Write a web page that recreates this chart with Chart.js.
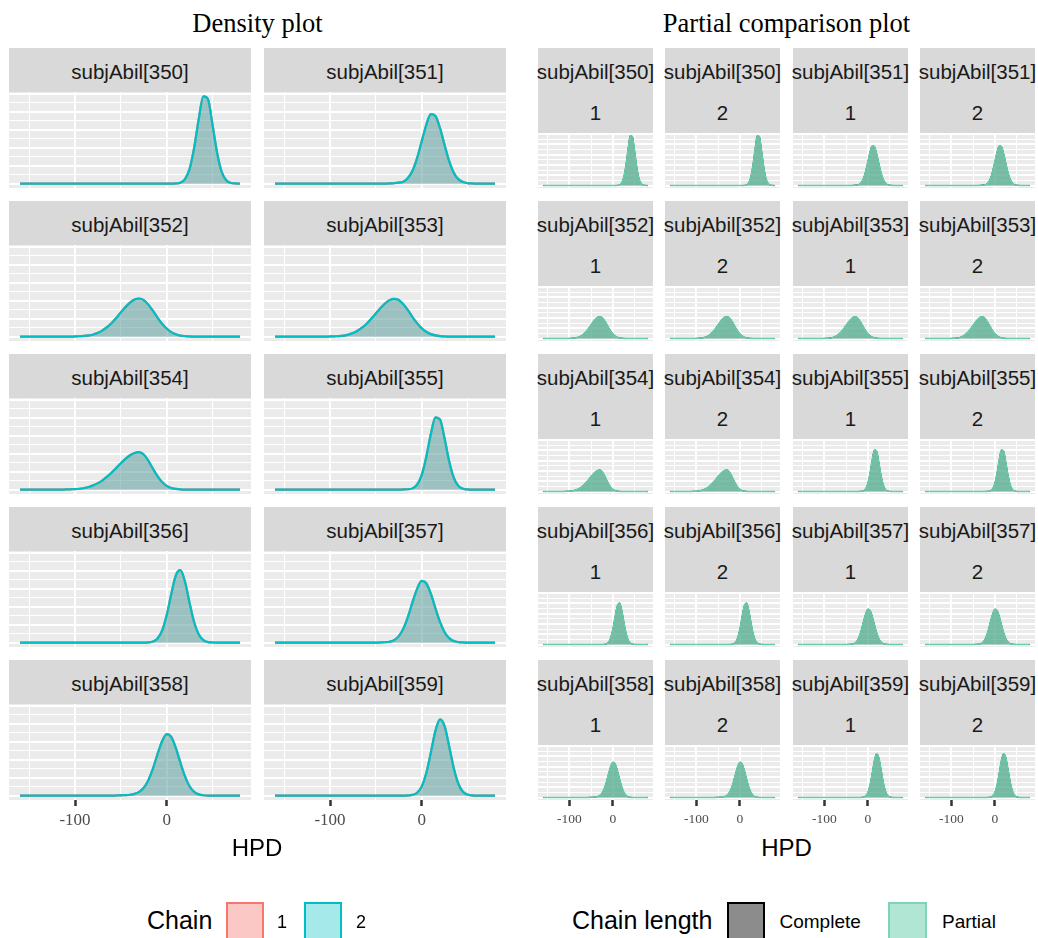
<!DOCTYPE html>
<html>
<head>
<meta charset="utf-8">
<script src="https://cdn.jsdelivr.net/npm/chart.js@4.4.0/dist/chart.umd.min.js"></script>
<style>
  html, body { margin: 0; padding: 0; background: #fff; }
  #page { position: relative; width: 1038px; height: 938px; overflow: hidden; }
  .txt { position: absolute; white-space: nowrap; line-height: 1; }
  .strip { position: absolute; background: #D9D9D9; }
  .key { position: absolute; box-sizing: border-box; border: 2px solid; }
  canvas { position: absolute; }
</style>
</head>
<body>
<div id="page"></div>
<script>
// HPD grid the densities are sampled on
const hpdGrid = [-160,-155,-150,-145,-140,-135,-130,-125,-120,-115,-110,-105,-100,-95,-90,-85,-80,-75,-70,-65,
  -60,-55,-50,-45,-40,-35,-30,-25,-20,-15,-10,-5,0,5,10,15,20,25,30,35,40,45,50,55,60,65,70,75,80];

// density (x1000) for each parameter, one value per grid point
const dens350 = [0,0,0,0,0,0,0,0,0,0, 0,0,0,0,0,0,0,0,0,0, 0,0,0,0,0,0,0,0,0,0,
  0,0,0,0,0.1,0.5,2.5,8.2,20.0,36.0, 48.5,47.0,32.8,17.2,6.6,1.9,0.4,0.1,0];
const dens351 = [0,0,0,0,0,0,0,0,0,0, 0,0,0,0,0,0,0,0,0,0, 0,0,0,0,0,0.1,0.3,0.6,1.1,3.1,
  7.2,14.2,23.4,32.6,38.6,37.6,30.9,21.5,12.5,6.1, 2.5,0.9,0.3,0.1,0,0,0,0,0];
const dens352 = [0,0,0,0,0,0,0,0,0,0, 0,0,0.1,0.2,0.4,0.7,1.2,2.1,3.5,5.3, 7.6,10.4,13.5,16.4,18.9,20.6,21.2,20.3,17.8,14.4,
  10.6,7.2,4.5,2.5,1.3,0.6,0.3,0.1,0,0, 0,0,0,0,0,0,0,0,0];
const dens353 = [0,0,0,0,0,0,0,0,0,0, 0,0,0.1,0.2,0.3,0.6,1.1,2.0,3.3,5.0, 7.2,9.9,12.9,15.8,18.4,20.3,21.0,20.4,18.0,14.7,
  10.9,7.5,4.7,2.7,1.4,0.7,0.3,0.1,0,0, 0,0,0,0,0,0,0,0,0];
const dens354 = [0,0,0,0,0,0,0,0,0,0, 0.1,0.2,0.3,0.5,0.9,1.5,2.4,3.6,5.2,7.2, 9.5,12.1,14.7,17.1,19.1,20.4,20.8,19.5,16.1,11.7,
  7.5,4.2,2.1,0.9,0.4,0.1,0,0,0,0, 0,0,0,0,0,0,0,0,0];
const dens355 = [0,0,0,0,0,0,0,0,0,0, 0,0,0,0,0,0,0,0,0,0, 0,0,0,0,0,0,0,0,0.1,0.2,
  0.7,2.8,8.1,18.2,30.9,40.2,39.0,28.4,15.8,6.7, 2.1,0.5,0.1,0,0,0,0,0,0];
const dens356 = [0,0,0,0,0,0,0,0,0,0, 0,0,0,0,0,0,0,0,0,0, 0,0,0,0,0,0,0,0,0.1,0.6,
  2.3,6.7,15.2,27.0,37.4,40.3,33.8,22.1,11.3,4.5, 1.4,0.3,0.1,0,0,0,0,0,0];
const dens357 = [0,0,0,0,0,0,0,0,0,0, 0,0,0,0,0,0,0,0,0,0, 0,0,0,0.1,0.2,0.5,1.4,3.6,7.8,14.3,
  22.5,29.9,34.3,33.0,27.2,19.1,11.5,5.8,2.5,0.9, 0.3,0.1,0,0,0,0,0,0,0];
const dens358 = [0,0,0,0,0,0,0,0,0,0, 0,0,0,0,0,0,0,0,0,0, 0,0.1,0.2,0.3,0.5,1.0,2.1,4.4,8.6,15.0,
  23.0,30.2,34.2,32.6,26.5,18.3,10.7,5.2,2.1,0.7, 0.2,0,0,0,0,0,0,0,0];
const dens359 = [0,0,0,0,0,0,0,0,0,0, 0,0,0,0,0,0,0,0,0,0, 0,0,0,0,0,0,0,0,0,0.1,
  0.4,1.6,5.0,12.4,23.9,36.0,42.4,38.7,27.5,15.3, 6.6,2.2,0.6,0.1,0,0,0,0,0];

const subjects = ['subjAbil[350]','subjAbil[351]','subjAbil[352]','subjAbil[353]','subjAbil[354]',
  'subjAbil[355]','subjAbil[356]','subjAbil[357]','subjAbil[358]','subjAbil[359]'];
const densities = [dens350, dens351, dens352, dens353, dens354, dens355, dens356, dens357, dens358, dens359];
const chains = ['1', '2'];

const hpdBreaks = [-150, -100, -50, 0, 50];
const hpdLabels = [-100, 0];
const densityBreaks = [0, 5, 10, 15, 20, 25, 30, 35, 40, 45, 50];

const SANS = '"Liberation Sans", Arial, sans-serif';
const SERIF = '"Liberation Serif", "Times New Roman", serif';

const page = document.getElementById('page');

// ggplot-style 5% expansion of both axes
const hpdSpan = hpdGrid[hpdGrid.length - 1] - hpdGrid[0];
const xMin = hpdGrid[0] - 0.05 * hpdSpan;
const xMax = hpdGrid[hpdGrid.length - 1] + 0.05 * hpdSpan;
const densityTop = Math.max(...densities.map(d => Math.max(...d)));
const yMin = -0.05 * densityTop;
const yMax = 1.05 * densityTop;

const panelBackground = {
  id: 'panelBackground',
  beforeDraw(chart) {
    const { ctx, chartArea: a } = chart;
    ctx.save();
    ctx.fillStyle = '#EBEBEB';
    ctx.fillRect(a.left, a.top, a.right - a.left, a.bottom - a.top);
    ctx.restore();
  }
};

function addText(str, x, baseline, size, family, opts = {}) {
  const el = document.createElement('div');
  el.className = 'txt';
  el.textContent = str;
  const ascent = family === SERIF ? 0.8375 : 0.8465;
  el.style.left = x + 'px';
  el.style.top = (baseline - ascent * size) + 'px';
  el.style.fontSize = size + 'px';
  el.style.fontFamily = family;
  el.style.color = opts.color || '#000';
  if (opts.align !== 'left') el.style.transform = 'translateX(-50%)';
  page.appendChild(el);
}

function addBox(cls, left, top, width, height, style) {
  const el = document.createElement('div');
  el.className = cls;
  Object.assign(el.style, { left: left + 'px', top: top + 'px', width: width + 'px', height: height + 'px' }, style || {});
  page.appendChild(el);
}

function addCanvas(left, top, width, height) {
  const c = document.createElement('canvas');
  c.width = width;
  c.height = height;
  c.style.left = left + 'px';
  c.style.top = top + 'px';
  c.style.width = width + 'px';
  c.style.height = height + 'px';
  page.appendChild(c);
  return c;
}

function toPoints(dens) {
  return hpdGrid.map((x, i) => ({ x, y: dens[i] }));
}

function panelChart(canvas, datasets, axis) {
  const major = (ctx, step) => ctx.tick && ctx.tick.value % step === 0;
  return new Chart(canvas, {
    type: 'line',
    data: { datasets },
    options: {
      responsive: false,
      animation: false,
      devicePixelRatio: 1,
      layout: { padding: 0, autoPadding: false },
      elements: { point: { radius: 0 }, line: { cubicInterpolationMode: 'monotone' } },
      plugins: { legend: { display: false }, tooltip: { enabled: false } },
      scales: {
        // white grid over the panel
        x: {
          type: 'linear',
          position: 'bottom',
          weight: 2,
          min: xMin,
          max: xMax,
          afterBuildTicks: s => { s.ticks = hpdBreaks.map(v => ({ value: v })); },
          afterFit: s => { s.height = 0; },
          border: { display: false },
          grid: {
            color: '#FFFFFF',
            lineWidth: ctx => major(ctx, 100) ? 1.9 : 1,
            drawTicks: false
          },
          ticks: { display: false }
        },
        // labelled breaks with tick marks, bottom row only
        xAxis: {
          type: 'linear',
          position: 'bottom',
          weight: 1,
          display: !!axis,
          min: xMin,
          max: xMax,
          afterBuildTicks: s => { s.ticks = hpdLabels.map(v => ({ value: v })); },
          afterFit: s => { s.height = axis ? axis.height : 0; },
          border: { display: false },
          grid: {
            drawOnChartArea: false,
            drawTicks: true,
            tickLength: axis ? axis.tickLength : 0,
            tickColor: '#333333',
            tickWidth: 2.5
          },
          ticks: {
            autoSkip: false,
            maxRotation: 0,
            padding: axis ? axis.padding : 0,
            color: '#4D4D4D',
            font: { family: SERIF, size: axis ? axis.fontSize : 12 },
            callback: v => String(v)
          }
        },
        y: {
          type: 'linear',
          min: yMin,
          max: yMax,
          afterBuildTicks: s => { s.ticks = densityBreaks.map(v => ({ value: v })); },
          afterFit: s => { s.width = 0; },
          border: { display: false },
          grid: {
            color: '#FFFFFF',
            lineWidth: ctx => major(ctx, 10) ? 1.9 : 1,
            drawTicks: false
          },
          ticks: { display: false }
        }
      }
    },
    plugins: [panelBackground]
  });
}

// layout
const ROW_TOP = 48;
const ROW_PITCH = 153;
const LEFT_COLS = [9, 264];
const LEFT_W = 242;
const RIGHT_COLS = [538, 665, 793, 920];
const RIGHT_W = 115;

function renderDensityPanel(idx) {
  const row = Math.floor(idx / 2);
  const left = LEFT_COLS[idx % 2];
  const top = ROW_TOP + row * ROW_PITCH;
  const bottomRow = row === 4;
  addBox('strip', left, top, LEFT_W, 44);
  addText(subjects[idx], left + LEFT_W / 2, top + 31, 20.5, SANS, { color: '#1A1A1A' });

  const axis = bottomRow ? { height: 36, tickLength: 6, padding: 4, fontSize: 17 } : null;
  const canvas = addCanvas(left, top + 44, LEFT_W, 96 + (axis ? axis.height : 0));
  const pts = toPoints(densities[idx]);
  panelChart(canvas, [
    { label: chains[1], data: pts, borderColor: '#00BFC4', backgroundColor: 'rgba(0,191,196,0.35)', fill: 'origin', borderWidth: 2.2 },
    { label: chains[0], data: pts, borderColor: '#F8766D', backgroundColor: 'rgba(248,118,109,0.35)', fill: 'origin', borderWidth: 2.2 }
  ], axis);
}

function renderComparisonPanel(row, col) {
  const idx = row * 2 + Math.floor(col / 2);
  const chain = chains[col % 2];
  const left = RIGHT_COLS[col];
  const top = ROW_TOP + row * ROW_PITCH;
  const bottomRow = row === 4;
  addBox('strip', left, top, RIGHT_W, 85);
  addText(subjects[idx], left + RIGHT_W / 2, top + 31, 20.5, SANS, { color: '#1A1A1A' });
  addText(chain, left + RIGHT_W / 2, top + 72.7, 20.5, SANS, { color: '#1A1A1A' });

  const axis = bottomRow ? { height: 30, tickLength: 6, padding: 5, fontSize: 13.5 } : null;
  const canvas = addCanvas(left, top + 85, RIGHT_W, 55 + (axis ? axis.height : 0));
  const pts = toPoints(densities[idx]);
  panelChart(canvas, [
    { label: 'Partial', data: pts, borderColor: '#66CDAA', backgroundColor: 'rgba(102,205,170,0.65)', fill: 'origin', borderWidth: 1.5 },
    { label: 'Complete', data: pts, borderColor: '#000000', backgroundColor: 'rgba(0,0,0,0.35)', fill: 'origin', borderWidth: 1 }
  ], axis);
}

addText('Density plot', 257.5, 31.7, 26.5, SERIF);
addText('Partial comparison plot', 786.5, 31.7, 26.5, SERIF);

for (let i = 0; i < subjects.length; i++) renderDensityPanel(i);
for (let r = 0; r < 5; r++) {
  for (let c = 0; c < 4; c++) renderComparisonPanel(r, c);
}

addText('HPD', 257, 856, 24, SANS);
addText('HPD', 786.5, 856, 24, SANS);

// legends
addText('Chain', 147, 929.3, 25, SANS, { align: 'left' });
addBox('key', 226, 902, 38, 40, { background: 'rgba(248,118,109,0.4)', borderColor: '#F8766D' });
addText(chains[0], 277, 928, 18, SANS, { align: 'left' });
addBox('key', 304, 902, 38, 40, { background: 'rgba(0,191,196,0.35)', borderColor: '#00BFC4' });
addText(chains[1], 356, 928, 18, SANS, { align: 'left' });

addText('Chain length', 572, 929.3, 25, SANS, { align: 'left' });
addBox('key', 727, 902, 38, 40, { background: 'rgba(0,0,0,0.45)', borderColor: '#000000' });
addText('Complete', 779.5, 928, 19, SANS, { align: 'left' });
addBox('key', 888, 902, 39, 40, { background: 'rgba(102,205,170,0.5)', borderColor: '#7FD4B6' });
addText('Partial', 942, 928, 19, SANS, { align: 'left' });
</script>
</body>
</html>
